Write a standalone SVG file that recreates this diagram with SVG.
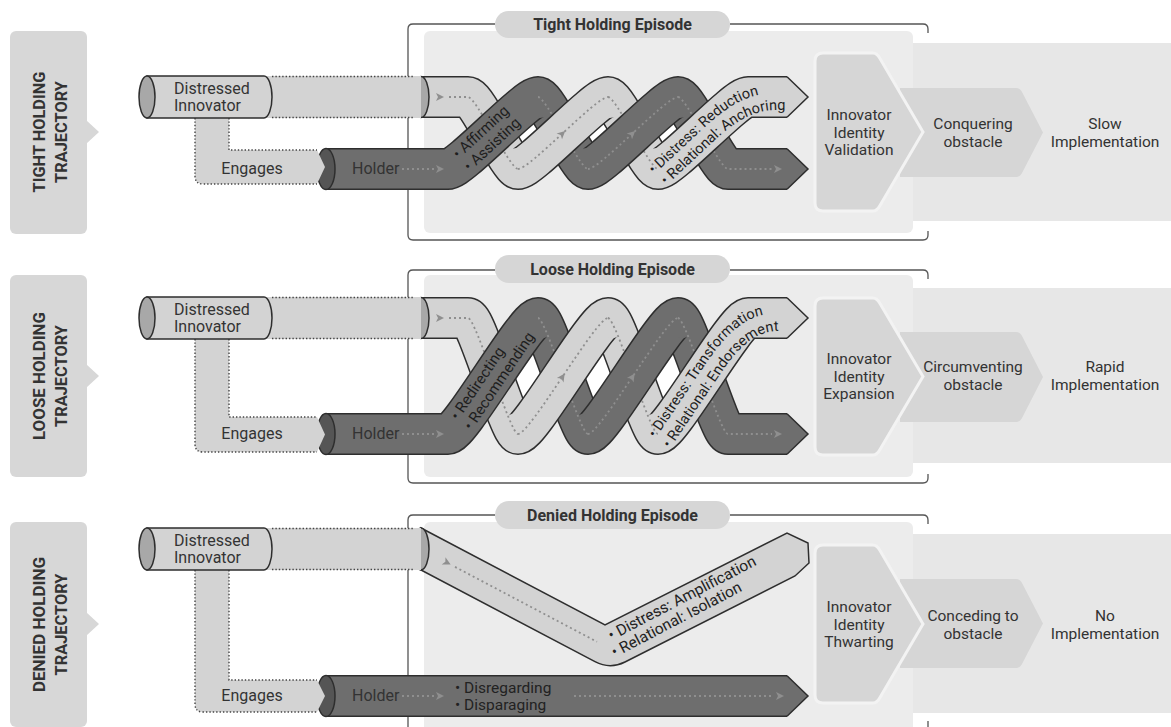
<svg xmlns="http://www.w3.org/2000/svg" width="1171" height="727" viewBox="0 0 1171 727">
<defs>
<style>
text{font-family:Roboto,"Liberation Sans",sans-serif;fill:#333}
.tab{fill:#d7d7d7}
.tt{font-size:17px;font-weight:bold;text-anchor:middle}
.br{fill:none;stroke:#555;stroke-width:1.3}
.inner{fill:#ececec}
.band{fill:#e7e7e7}
.chev{fill:#d6d6d6}
.c1{fill:#d6d6d6;stroke:#f3f3f3;stroke-width:3}
.pill{fill:#d6d6d6}
.pt{font-size:16px;font-weight:bold;text-anchor:middle}
.m{font-size:15.5px;text-anchor:middle}
.n16{font-size:16px}
.ol{fill:none;stroke:#2e2e2e;stroke-width:42}
.lf{fill:none;stroke:#d3d3d3;stroke-width:39}
.df{fill:none;stroke:#6e6e6e;stroke-width:39}
.dots{fill:none;stroke:#8f8f8f;stroke-width:1.8;stroke-dasharray:2 3}
.ed{fill:none;stroke:#444;stroke-width:1.4;stroke-dasharray:1.4 2}
.lfill{fill:#d3d3d3}
.dfill{fill:#6e6e6e}
.edge{stroke:#2e2e2e;stroke-width:1.5}
.lcap{fill:#a8a8a8;stroke:#2e2e2e;stroke-width:1.5}
.dcap{fill:#555;stroke:#2e2e2e;stroke-width:1.5}
.win{fill:#ffffff}
.bt{font-size:15px;fill:#1e1e1e}
.bp{font-size:14.5px;fill:#1e1e1e}
.bd{font-size:15.5px;fill:#222}
</style>
<path id="ah" d="M-5,-4 L3,0 L-5,4 L-3,0 Z" fill="#8f8f8f"/>
<path id="tpT1" d="M654,174.6 L705.2,126.9 Q740,94 770,93.5 L830,93.5"/>
<path id="tpT2" d="M666.3,185.5 L717.5,137.8 Q747,110 776,110 L830,110"/>
<path id="tpL1" d="M655.5,438.5 L707.5,361.4 Q739.5,314.5 770,314.5 L840,314.5"/>
<path id="tpL2" d="M670,448.7 L722,371.6 Q749,331 778,331 L840,331"/>
</defs>

<!-- ================= TIGHT ================= -->
<g id="tight-panel">
<path class="br" d="M495,24 H413 Q408,24 408,29 V235 Q408,240 413,240 H923 Q928,240 928,235 V231 M730,24 H923 Q928,24 928,29 V33"/>
<rect class="band" x="900" y="43" width="271" height="178"/>
<rect class="inner" x="424" y="31" width="489" height="202" rx="6"/>
<rect class="pill" x="495" y="11" width="235" height="27" rx="13.5"/>
<text class="pt" x="612.5" y="30">Tight Holding Episode</text>
</g>
<g id="tight-outcome">
<path class="chev" d="M900,88 H1016 Q1020,88 1022,92 L1043,132.5 L1022,173 Q1020,177 1016,177 H900 Z"/>
<text class="m" x="973" y="129">Conquering</text>
<text class="m" x="973" y="147">obstacle</text>
<text class="m" x="1105" y="129">Slow</text>
<text class="m" x="1105" y="147">Implementation</text>
</g>
<g id="tight-identity">
<path class="c1" d="M823,53 H873 Q877,53 880,58.5 L923,132 L880,205.5 Q877,211 873,211 H823 Q815,211 815,203 V61 Q815,53 823,53 Z"/>
<text class="m" x="859" y="120">Innovator</text>
<text class="m" x="859" y="137.5">Identity</text>
<text class="m" x="859" y="155">Validation</text>
</g>
<g id="tight-tab">
<rect class="tab" x="10" y="31" width="77" height="203" rx="6"/>
<path class="tab" d="M86,120 L99,132 L86,144 Z"/>
<text class="tt" transform="translate(45,132) rotate(-90)" textLength="121" lengthAdjust="spacingAndGlyphs">TIGHT HOLDING</text>
<text class="tt" transform="translate(66.5,132) rotate(-90)" textLength="102" lengthAdjust="spacingAndGlyphs">TRAJECTORY</text>
</g>
<g id="tight-helix">
<rect class="win" x="505" y="119" width="210" height="28"/>
<path class="ol" d="M421,97 H468 C476,97 510,169 518,169 M608,97 C616,97 650,169 658,169 M538,97 C546,97 580,169 588,169 M678,97 C686,97 720,169 728,169 H787"/>
<path class="lf" d="M421,97 H468 C476,97 510,169 518,169 M608,97 C616,97 650,169 658,169"/>
<path class="df" d="M538,97 C546,97 580,169 588,169 M678,97 C686,97 720,169 728,169 H787"/>
<path class="dfill edge" d="M787,148.75 L808,169 L787,189.25"/>
<path class="dots" d="M449,97 H468 C476,97 510,169 518,169 M608,97 C616,97 650,169 658,169 M538,97 C546,97 580,169 588,169 M678,97 C686,97 720,169 728,169 H772"/>
<use href="#ah" transform="translate(441,97)"/>
<use href="#ah" transform="translate(779,169)"/>
<ellipse class="lcap" cx="421" cy="97" rx="8" ry="20.5"/>
<path class="ol" d="M326,169 H448 C460,169 526,97 538,97 M588,169 C600,169 666,97 678,97 M518,169 C530,169 596,97 608,97 M658,169 C670,169 736,97 748,97 H787"/>
<path class="df" d="M326,169 H448 C460,169 526,97 538,97 M588,169 C600,169 666,97 678,97"/>
<path class="lf" d="M518,169 C530,169 596,97 608,97 M658,169 C670,169 736,97 748,97 H787"/>
<path class="lfill edge" d="M787,76.75 L808,97 L787,117.25"/>
<path class="dots" d="M518,169 C530,169 596,97 608,97 M588,169 C600,169 666,97 678,97 M402,169 H434"/>
<use href="#ah" transform="translate(563,133) rotate(-42.7)"/>
<use href="#ah" transform="translate(633,133) rotate(-42.7)"/>
<use href="#ah" transform="translate(441,169)"/>
<ellipse class="dcap" cx="326" cy="169" rx="9" ry="20.5"/>
<text class="bt" transform="translate(458.4,159.5) rotate(-42.7)">• Affirming</text>
<text class="bt" transform="translate(469.5,172) rotate(-42.7)">• Assisting</text>
<text class="bp"><textPath href="#tpT1">• Distress: Reduction</textPath></text>
<text class="bp"><textPath href="#tpT2">• Relational: Anchoring</textPath></text>
<text class="n16" x="352" y="174" fill="#1e1e1e">Holder</text>
</g>
<g id="tight-engages">
<path class="lfill" d="M195,118 V176 Q195,184 203,184 H317 L325,167 L317,150 H229 V118 Z"/>
<path class="ed" d="M195,118 V176 Q195,184 203,184 H317 M229,118 V150 H317"/>
<text class="n16" x="252" y="174" text-anchor="middle">Engages</text>
</g>
<g id="tight-innovator">
<rect class="lfill" x="264" y="76" width="157" height="42"/>
<path class="ed" d="M272,76.5 H414 M272,117.5 H414"/>
<path class="lfill edge" d="M147,76 H264 A8,21 0 0 1 264,118 H147 Z"/>
<ellipse class="lcap" cx="147" cy="97" rx="8" ry="21"/>
<text class="n16" x="174" y="94">Distressed</text>
<text class="n16" x="174" y="111">Innovator</text>
</g>

<!-- ================= LOOSE ================= -->
<g id="loose-panel">
<path class="br" d="M495,270 H413 Q408,270 408,275 V478 Q408,483 413,483 H923 Q928,483 928,478 V474 M730,270 H923 Q928,270 928,275 V279"/>
<rect class="band" x="900" y="288" width="271" height="175"/>
<rect class="inner" x="424" y="275" width="489" height="202" rx="6"/>
<rect class="pill" x="495" y="255" width="235" height="28" rx="14"/>
<text class="pt" x="612.5" y="275">Loose Holding Episode</text>
</g>
<g id="loose-outcome">
<path class="chev" d="M900,332 H1016 Q1020,332 1022,336 L1043,377 L1022,418 Q1020,422 1016,422 H900 Z"/>
<text class="m" x="973" y="372">Circumventing</text>
<text class="m" x="973" y="390">obstacle</text>
<text class="m" x="1105" y="372">Rapid</text>
<text class="m" x="1105" y="390">Implementation</text>
</g>
<g id="loose-identity">
<path class="c1" d="M823,298 H873 Q877,298 880,303.5 L923,376.5 L880,449.5 Q877,455 873,455 H823 Q815,455 815,447 V306 Q815,298 823,298 Z"/>
<text class="m" x="859" y="364">Innovator</text>
<text class="m" x="859" y="381.5">Identity</text>
<text class="m" x="859" y="399">Expansion</text>
</g>
<g id="loose-tab">
<rect class="tab" x="10" y="275" width="77" height="202" rx="6"/>
<path class="tab" d="M86,364 L99,376 L86,388 Z"/>
<text class="tt" transform="translate(45,376) rotate(-90)" textLength="128" lengthAdjust="spacingAndGlyphs">LOOSE HOLDING</text>
<text class="tt" transform="translate(66.5,376) rotate(-90)" textLength="102" lengthAdjust="spacingAndGlyphs">TRAJECTORY</text>
</g>
<g id="loose-helix">
<rect class="win" x="505" y="346" width="210" height="58"/>
<path class="ol" d="M421,318 H468 C476,318 510,434 518,434 M608,318 C616,318 650,434 658,434 M538,318 C546,318 580,434 588,434 M678,318 C686,318 720,434 728,434 H787"/>
<path class="lf" d="M421,318 H468 C476,318 510,434 518,434 M608,318 C616,318 650,434 658,434"/>
<path class="df" d="M538,318 C546,318 580,434 588,434 M678,318 C686,318 720,434 728,434 H787"/>
<path class="dfill edge" d="M787,413.75 L808,434 L787,454.25"/>
<path class="dots" d="M449,318 H468 C476,318 510,434 518,434 M608,318 C616,318 650,434 658,434 M538,318 C546,318 580,434 588,434 M678,318 C686,318 720,434 728,434 H772"/>
<use href="#ah" transform="translate(441,318)"/>
<use href="#ah" transform="translate(779,434)"/>
<ellipse class="lcap" cx="421" cy="318" rx="8" ry="20.5"/>
<path class="ol" d="M326,434 H448 C460,434 526,318 538,318 M588,434 C600,434 666,318 678,318 M518,434 C530,434 596,318 608,318 M658,434 C670,434 736,318 748,318 H787"/>
<path class="df" d="M326,434 H448 C460,434 526,318 538,318 M588,434 C600,434 666,318 678,318"/>
<path class="lf" d="M518,434 C530,434 596,318 608,318 M658,434 C670,434 736,318 748,318 H787"/>
<path class="lfill edge" d="M787,297.75 L808,318 L787,338.25"/>
<path class="dots" d="M518,434 C530,434 596,318 608,318 M588,434 C600,434 666,318 678,318 M402,434 H434"/>
<use href="#ah" transform="translate(563,376) rotate(-56.1)"/>
<use href="#ah" transform="translate(633,376) rotate(-56.1)"/>
<use href="#ah" transform="translate(441,434)"/>
<ellipse class="dcap" cx="326" cy="434" rx="9" ry="20.5"/>
<text class="bt" transform="translate(458.2,421) rotate(-56.1)">• Redirecting</text>
<text class="bt" transform="translate(471.6,431) rotate(-56.1)">• Recommending</text>
<text class="bp"><textPath href="#tpL1">• Distress: Transformation</textPath></text>
<text class="bp"><textPath href="#tpL2">• Relational: Endorsement</textPath></text>
<text class="n16" x="352" y="439" fill="#1e1e1e">Holder</text>
</g>
<g id="loose-engages">
<path class="lfill" d="M195,339 V444 Q195,452 203,452 H317 L325,434.5 L317,417 H229 V339 Z"/>
<path class="ed" d="M195,339 V444 Q195,452 203,452 H317 M229,339 V417 H317"/>
<text class="n16" x="252" y="439" text-anchor="middle">Engages</text>
</g>
<g id="loose-innovator">
<rect class="lfill" x="264" y="297" width="157" height="42"/>
<path class="ed" d="M272,297.5 H414 M272,338.5 H414"/>
<path class="lfill edge" d="M147,297 H264 A8,21 0 0 1 264,339 H147 Z"/>
<ellipse class="lcap" cx="147" cy="318" rx="8" ry="21"/>
<text class="n16" x="174" y="315">Distressed</text>
<text class="n16" x="174" y="332">Innovator</text>
</g>

<!-- ================= DENIED ================= -->
<g id="denied-panel">
<path class="br" d="M495,515 H413 Q408,515 408,520 V745 M730,515 H923 Q928,515 928,520 V524 M928,721 V745"/>
<rect class="band" x="900" y="534" width="271" height="179"/>
<rect class="inner" x="424" y="522" width="489" height="230" rx="6"/>
<rect class="pill" x="495" y="501" width="235" height="28" rx="14"/>
<text class="pt" x="612.5" y="521">Denied Holding Episode</text>
</g>
<g id="denied-outcome">
<path class="chev" d="M900,579 H1016 Q1020,579 1022,583 L1043,623.5 L1022,664 Q1020,668 1016,668 H900 Z"/>
<text class="m" x="973" y="621">Conceding to</text>
<text class="m" x="973" y="639">obstacle</text>
<text class="m" x="1105" y="621">No</text>
<text class="m" x="1105" y="639">Implementation</text>
</g>
<g id="denied-identity">
<path class="c1" d="M823,545 H873 Q877,545 880,550.5 L923,624 L880,697.5 Q877,703 873,703 H823 Q815,703 815,695 V553 Q815,545 823,545 Z"/>
<text class="m" x="859" y="612">Innovator</text>
<text class="m" x="859" y="629.5">Identity</text>
<text class="m" x="859" y="647">Thwarting</text>
</g>
<g id="denied-tab">
<rect class="tab" x="10" y="522" width="77" height="205" rx="6"/>
<path class="tab" d="M86,612 L99,624 L86,636 Z"/>
<text class="tt" transform="translate(45,624.5) rotate(-90)" textLength="135" lengthAdjust="spacingAndGlyphs">DENIED HOLDING</text>
<text class="tt" transform="translate(66.5,624.5) rotate(-90)" textLength="102" lengthAdjust="spacingAndGlyphs">TRAJECTORY</text>
</g>
<g id="denied-innovator-path">
<path class="lfill edge" d="M421,528 L605,625 L787,533 L808,543 L809,563 L795,576 L625,662 Q610,669.6 595,661.7 L421,570 Z"/>
<ellipse class="lcap" cx="421" cy="549" rx="8" ry="21"/>
<path class="dots" d="M455,566.9 L597,641.8"/>
<use href="#ah" transform="translate(448,563.2) rotate(27.8)"/>
<text class="bd" transform="translate(611.6,640.7) rotate(-27.6)">• Distress: Amplification</text>
<text class="bd" transform="translate(614.8,657.6) rotate(-27.6)">• Relational: Isolation</text>
</g>
<g id="denied-holder">
<path class="ol" d="M326,696 H787"/>
<path class="df" d="M326,696 H787"/>
<path class="dfill edge" d="M787,675.75 L808,696 L787,716.25"/>
<path class="dots" d="M402,696 H434 M574,696 H774"/>
<use href="#ah" transform="translate(441,696)"/>
<use href="#ah" transform="translate(781,696)"/>
<ellipse class="dcap" cx="326" cy="696" rx="9" ry="20.5"/>
<text class="n16" x="352" y="701" fill="#1e1e1e">Holder</text>
<text class="bd" x="455" y="693">• Disregarding</text>
<text class="bd" x="455" y="710">• Disparaging</text>
</g>
<g id="denied-engages">
<path class="lfill" d="M195,570 V704 Q195,712 203,712 H317 L325,696 L317,680 H229 V570 Z"/>
<path class="ed" d="M195,570 V704 Q195,712 203,712 H317 M229,570 V680 H317"/>
<text class="n16" x="252" y="701" text-anchor="middle">Engages</text>
</g>
<g id="denied-innovator">
<rect class="lfill" x="264" y="528" width="157" height="42"/>
<path class="ed" d="M272,528.5 H414 M272,569.5 H414"/>
<path class="lfill edge" d="M147,528 H264 A8,21 0 0 1 264,570 H147 Z"/>
<ellipse class="lcap" cx="147" cy="549" rx="8" ry="21"/>
<text class="n16" x="174" y="546">Distressed</text>
<text class="n16" x="174" y="563">Innovator</text>
</g>
</svg>
